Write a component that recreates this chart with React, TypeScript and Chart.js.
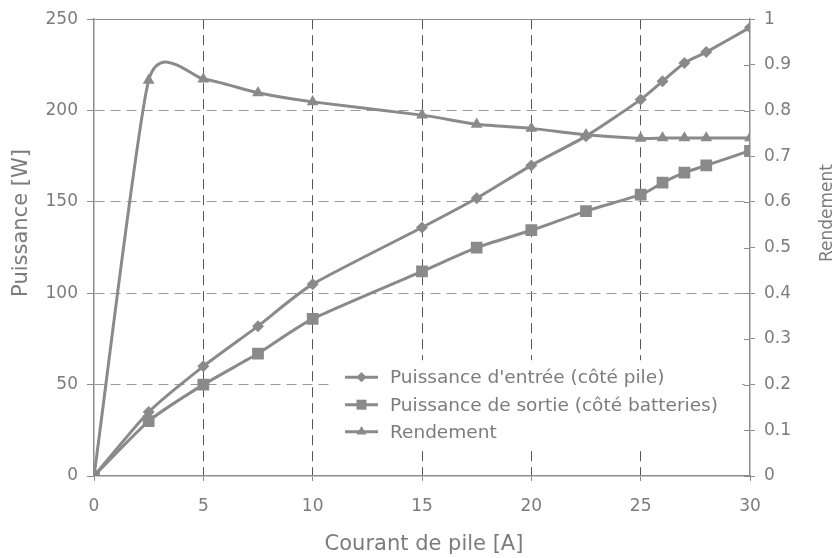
import React, { useEffect, useRef } from 'react';
import { Chart, registerables } from 'chart.js';

Chart.register(...registerables);

// ---- Data ----
const current = [0, 2.5, 5, 7.5, 10, 15, 17.5, 20, 22.5, 25, 26, 27, 28, 30];
const inputPower = [0, 35, 60, 82, 105, 136, 152, 170, 186, 206, 216, 226, 232, 245.5];
const outputPower = [0, 30, 50, 67, 86, 112, 125, 134.5, 145, 154, 160.5, 166, 170, 178];
const efficiency = [0, 0.866, 0.869, 0.839, 0.819, 0.79, 0.77, 0.761, 0.747, 0.739, 0.74, 0.74, 0.74, 0.74];

const seriesLabels = [
  "Puissance d'entrée (côté pile)",
  'Puissance de sortie (côté batteries)',
  'Rendement',
];
const xTitle = 'Courant de pile [A]';
const yTitle = 'Puissance [W]';
const y2Title = 'Rendement';

const FONT = '"DejaVu Sans", Verdana, sans-serif';
const GREY = '#8a8a8a';
const TEXT = '#7c7c7c';
const AXIS = '#8c8c8c';
const SMOOTH = 0.1; // spreadsheet-style smoothing factor

type Marker = 'rectRot' | 'rect' | 'triangle';
const markerStyles: Marker[] = ['rectRot', 'rect', 'triangle'];
const markerRadius = [6, 8.3, 6.8];

function drawMarker(ctx: CanvasRenderingContext2D, style: Marker, x: number, y: number, r: number) {
  ctx.beginPath();
  if (style === 'rectRot') {
    ctx.moveTo(x - r, y);
    ctx.lineTo(x, y - r);
    ctx.lineTo(x + r, y);
    ctx.lineTo(x, y + r);
  } else if (style === 'rect') {
    const s = r * Math.SQRT1_2;
    ctx.rect(x - s, y - s, 2 * s, 2 * s);
  } else {
    ctx.moveTo(x, y - r);
    ctx.lineTo(x + r * 0.866, y + r * 0.5);
    ctx.lineTo(x - r * 0.866, y + r * 0.5);
  }
  ctx.closePath();
  ctx.fill();
}

const overlay = {
  id: 'overlay',
  beforeDatasetsDraw(chart: any) {
    // spreadsheet-like (Catmull-Rom) smoothing of the line paths
    chart.data.datasets.forEach((_ds: any, i: number) => {
      const meta = chart.getDatasetMeta(i);
      const line = meta.dataset;
      const pts = meta.data;
      if (!line || !pts) return;
      line.updateControlPoints(chart.chartArea);
      for (let j = 0; j < pts.length; j++) {
        const p = pts[j];
        const prev = pts[j - 1] || p;
        const next = pts[j + 1] || p;
        const f = j === 0 || j === pts.length - 1 ? SMOOTH * 2 : SMOOTH;
        const dx = next.x - prev.x;
        const dy = next.y - prev.y;
        p.cp1x = p.x - f * dx;
        p.cp1y = p.y - f * dy;
        p.cp2x = p.x + f * dx;
        p.cp2y = p.y + f * dy;
      }
    });
  },
  afterDatasetsDraw(chart: any) {
    const { ctx, chartArea, scales } = chart;
    ctx.save();
    // inward tick marks on right axis
    const y2 = scales.y2;
    ctx.strokeStyle = AXIS;
    ctx.lineWidth = 1;
    for (let i = 0; i <= 10; i++) {
      const y = Math.round(y2.getPixelForValue(i / 10)) + 0.5;
      ctx.beginPath();
      ctx.moveTo(chartArea.right - 6, y);
      ctx.lineTo(chartArea.right, y);
      ctx.stroke();
    }
    // legend box inside plot
    const left = chartArea.left + 238;
    const top = chartArea.top + 341;
    const right = chartArea.right - 8;
    const bottom = chartArea.bottom - 26;
    ctx.fillStyle = '#ffffff';
    ctx.fillRect(left, top, right - left, bottom - top);
    const rowY = [top + 17, top + 44.5, top + 71.5];
    ctx.font = `18.5px ${FONT}`;
    ctx.textAlign = 'left';
    ctx.textBaseline = 'middle';
    seriesLabels.forEach((lab, i) => {
      const y = rowY[i];
      ctx.strokeStyle = GREY;
      ctx.lineWidth = 3;
      ctx.beginPath();
      ctx.moveTo(left + 13, y);
      ctx.lineTo(left + 46, y);
      ctx.stroke();
      ctx.fillStyle = GREY;
      drawMarker(ctx, markerStyles[i], left + 29.5, y, markerRadius[i] * 0.85);
      ctx.fillStyle = TEXT;
      ctx.fillText(lab, left + 58, y + 1);
    });
    ctx.restore();
  },
  afterDraw(chart: any) {
    const { ctx } = chart;
    ctx.save();
    ctx.fillStyle = TEXT;
    ctx.textAlign = 'center';
    ctx.textBaseline = 'middle';
    // left title
    ctx.font = `21px ${FONT}`;
    ctx.save();
    ctx.translate(22, 223);
    ctx.rotate(-Math.PI / 2);
    ctx.fillText(yTitle, 0, 0);
    ctx.restore();
    // right title
    ctx.font = `17px ${FONT}`;
    ctx.save();
    ctx.translate(828, 213);
    ctx.rotate(-Math.PI / 2);
    ctx.fillText(y2Title, 0, 0);
    ctx.restore();
    // bottom title
    ctx.font = `21px ${FONT}`;
    ctx.textBaseline = 'alphabetic';
    ctx.fillText(xTitle, 424, 550);
    ctx.restore();
  },
};

export default function App() {
  const ref = useRef<HTMLCanvasElement>(null);

  useEffect(() => {
    const canvas = ref.current;
    if (!canvas) return;
    const series = [inputPower, outputPower, efficiency];
    const datasets = series.map((vals, i) => ({
      label: seriesLabels[i],
      data: current.map((x, j) => ({ x, y: vals[j] })),
      borderColor: GREY,
      backgroundColor: GREY,
      pointBackgroundColor: GREY,
      pointBorderColor: GREY,
      pointStyle: markerStyles[i],
      pointRadius: markerRadius[i],
      pointBorderWidth: 0,
      borderWidth: 3,
      tension: 0.4,
      yAxisID: i === 2 ? 'y2' : 'y',
    }));

    const tickFont = { family: FONT, size: 17 };
    const chart = new Chart(canvas, {
      type: 'line',
      data: { datasets },
      options: {
        animation: false,
        responsive: false,
        maintainAspectRatio: false,
        devicePixelRatio: 1,
        layout: { padding: { top: 17, left: 0, right: 0, bottom: 0 } },
        plugins: {
          legend: { display: false },
          tooltip: { enabled: false },
        },
        scales: {
          x: {
            type: 'linear',
            min: 0,
            max: 30,
            ticks: { stepSize: 5, color: TEXT, font: tickFont, padding: 15, maxRotation: 0 },
            grid: {
              color: (c: any) =>
                c.tick && (c.tick.value === 0 || c.tick.value === 30) ? 'rgba(0,0,0,0)' : '#555555',
              tickColor: AXIS,
              tickLength: 5,
              lineWidth: 1,
            },
            border: { color: AXIS, width: 1.5, dash: [10, 6] },
            afterFit: (s: any) => {
              s.height = 82;
            },
          },
          y: {
            position: 'left',
            min: 0,
            max: 250,
            ticks: { stepSize: 50, color: TEXT, font: tickFont, padding: 9 },
            grid: {
              color: (c: any) =>
                c.tick && c.tick.value === 0 ? 'rgba(0,0,0,0)' : c.tick && c.tick.value === 250 ? AXIS : '#9a9a9a',
              tickColor: AXIS,
              tickLength: 7,
              lineWidth: 1,
            },
            border: {
              color: AXIS,
              width: 1.5,
              dash: (c: any) => (c.tick && c.tick.value === 250 ? [] : [10, 6]),
            },
            afterFit: (s: any) => {
              s.width = 94;
            },
          },
          y2: {
            position: 'right',
            min: 0,
            max: 1,
            ticks: {
              stepSize: 0.1,
              color: TEXT,
              font: tickFont,
              padding: 9,
              callback: (v: any) => String(Math.round(Number(v) * 10) / 10),
            },
            grid: { drawOnChartArea: false, tickColor: AXIS, tickLength: 5 },
            border: { color: AXIS, width: 1.5 },
            afterFit: (s: any) => {
              s.width = 90;
            },
          },
        },
      } as any,
      plugins: [overlay],
    });
    return () => chart.destroy();
  }, []);

  return (
    <div style={{ position: 'absolute', left: 0, top: 0, width: 840, height: 558, background: '#ffffff' }}>
      <canvas ref={ref} width={840} height={558} style={{ width: 840, height: 558, display: 'block' }} />
    </div>
  );
}
